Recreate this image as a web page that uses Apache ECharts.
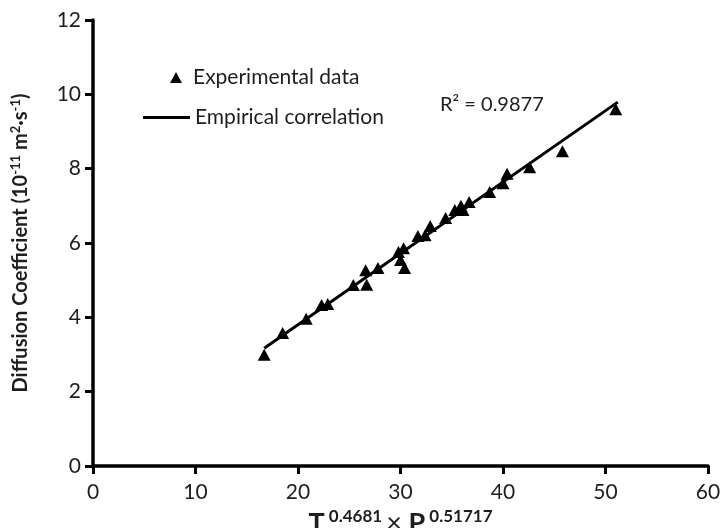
<!DOCTYPE html>
<html>
<head>
<meta charset="utf-8">
<script src="https://cdn.jsdelivr.net/npm/echarts@6/dist/echarts.min.js"></script>
<style>
  html, body { margin: 0; padding: 0; background: #fff; }
  #chart { width: 721px; height: 528px; }
</style>
</head>
<body>
<div id="chart"></div>
<script>
  // experimental points: x = T^0.4681 * P^0.51717, y = D (1e-11 m2/s)
  var expX = [16.7, 18.5, 20.8, 22.3, 22.9, 25.4, 26.6, 26.7, 27.8, 29.8, 30.0, 30.3, 30.4,
              31.7, 32.4, 32.9, 34.4, 35.3, 35.9, 36.1, 36.7, 38.7, 40.0, 40.4, 42.6, 45.8, 51.0];
  var expY = [2.99, 3.58, 3.96, 4.33, 4.36, 4.87, 5.27, 4.88, 5.33, 5.76, 5.54, 5.86, 5.33,
              6.19, 6.21, 6.46, 6.67, 6.89, 7.0, 6.89, 7.1, 7.37, 7.61, 7.86, 8.04, 8.47, 9.6];
  // fitted line end points
  var fitX = [16.7, 51.2];
  var fitY = [3.17, 9.79];
  var r2Text = 'R\u00b2 = 0.9877';

  var expData = expX.map(function (x, i) { return [x, expY[i]]; });
  var fitData = fitX.map(function (x, i) { return [x, fitY[i]]; });

  var txt = '#1e1e1e';
  var fontFam = 'Lato, "Liberation Sans", sans-serif';

  var myEcharts = echarts.init(document.getElementById('chart'));
  var option = {
    animation: false,
    grid: { left: 93, right: 13, top: 20, bottom: 62, outerBoundsMode: 'none' },
    legend: [{
      data: ['Experimental data'],
      left: 165, top: 62,
      itemWidth: 12, itemHeight: 11,
      itemStyle: { opacity: 1 },
      textStyle: { fontSize: 21, color: txt, fontFamily: fontFam, padding: [0, 0, 0, 6] }
    }, {
      data: [{ name: 'Empirical correlation', icon: 'rect' }],
      left: 138, top: 102,
      itemWidth: 47, itemHeight: 3,
      textStyle: { fontSize: 21, color: txt, fontFamily: fontFam }
    }],
    xAxis: {
      type: 'value', min: 0, max: 60, interval: 10,
      axisLine: { show: true, onZero: false, lineStyle: { color: '#000', width: 3.5 } },
      axisTick: { show: true, length: 8, lineStyle: { color: '#000', width: 3 } },
      axisLabel: { fontSize: 21, color: txt, fontFamily: fontFam, margin: 16 },
      splitLine: { show: false },
      name: '{b|T}{s| 0.4681 }{x|\u00d7}{b| P}{s| 0.51717}',
      nameLocation: 'middle', nameGap: 34,
      nameTextStyle: {
        rich: {
          b: { fontSize: 27, fontWeight: 'bold', color: txt, fontFamily: fontFam },
          s: { fontSize: 17, fontWeight: 'bold', color: txt, fontFamily: fontFam, padding: [0, 0, 14, 0] },
          x: { fontSize: 27, color: txt, fontFamily: fontFam }
        }
      }
    },
    yAxis: {
      type: 'value', min: 0, max: 12, interval: 2,
      axisLine: { show: true, onZero: false, lineStyle: { color: '#000', width: 3.5 } },
      axisTick: { show: true, length: 8, lineStyle: { color: '#000', width: 3 } },
      axisLabel: { fontSize: 21, color: txt, fontFamily: fontFam, margin: 12 },
      splitLine: { show: false },
      name: '{n|Diffusion Coefficient (10}{s|-11}{n| m}{s|2}{n|\u00b7s}{s|-1}{n|)}',
      nameLocation: 'middle', nameGap: 61,
      nameTextStyle: {
        rich: {
          n: { fontSize: 20, fontWeight: 'bold', color: txt, fontFamily: fontFam },
          s: { fontSize: 13, fontWeight: 'bold', color: txt, fontFamily: fontFam, padding: [0, 0, 10, 0] }
        }
      }
    },
    graphic: [{
      type: 'text', left: 440, top: 95,
      style: { text: r2Text, fontSize: 20, fill: txt, fontFamily: fontFam }
    }],
    series: [{
      name: 'Empirical correlation',
      type: 'line',
      data: fitData,
      symbol: 'none',
      lineStyle: { color: '#000', width: 3 },
      itemStyle: { color: '#000' },
      z: 2
    }, {
      name: 'Experimental data',
      type: 'scatter',
      data: expData,
      symbol: 'triangle',
      symbolSize: [13, 12],
      itemStyle: { color: '#000', opacity: 1 },
      z: 3
    }]
  };
  myEcharts.setOption(option);
</script>
</body>
</html>
